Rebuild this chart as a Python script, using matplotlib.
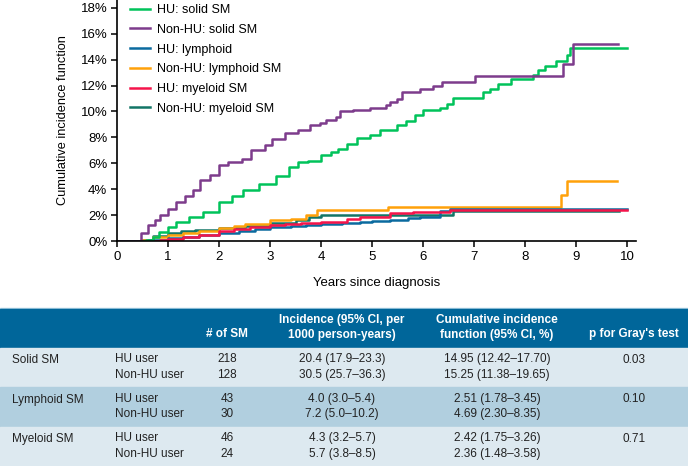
import numpy as np
import matplotlib.pyplot as plt
from matplotlib.patches import Rectangle

# curves (years, %)
hu_solid_t = [0, 0.57, 0.7, 0.83, 1.0, 1.16, 1.42, 1.68, 2.0, 2.26, 2.46, 2.78, 3.11, 3.37, 3.55, 3.75,
              4.0, 4.2, 4.34, 4.5, 4.7, 4.96, 5.15, 5.48, 5.67, 5.84, 6.0, 6.33, 6.46, 6.59, 7.18, 7.31,
              7.47, 7.73, 8.16, 8.25, 8.38, 8.61, 8.81, 8.87, 10.0]
hu_solid_v = [0, 0.1, 0.3, 0.7, 1.1, 1.45, 1.85, 2.25, 3.0, 3.5, 3.9, 4.4, 5.05, 5.7, 6.1, 6.2,
              6.6, 6.9, 7.12, 7.5, 7.97, 8.15, 8.6, 8.92, 9.23, 9.7, 10.13, 10.28, 10.6, 11.06, 11.49, 11.75,
              12.08, 12.52, 12.85, 13.16, 13.47, 13.88, 14.37, 14.86, 14.86]

non_solid_t = [0, 0.48, 0.6, 0.75, 0.85, 1.0, 1.16, 1.33, 1.49, 1.62, 1.82, 2.0, 2.18, 2.44, 2.63, 2.9,
               3.03, 3.29, 3.55, 3.78, 3.97, 4.1, 4.3, 4.37, 4.63, 4.96, 5.28, 5.35, 5.48, 5.58, 5.94,
               6.2, 6.36, 7.01, 8.73, 8.94, 9.81]
non_solid_v = [0, 0.6, 1.2, 1.6, 2.0, 2.5, 3.0, 3.5, 3.9, 4.67, 5.1, 5.85, 6.1, 6.35, 7.0, 7.4,
               7.9, 8.3, 8.6, 8.92, 9.1, 9.36, 9.56, 10.0, 10.13, 10.28, 10.46, 10.72, 10.98, 11.49, 11.75,
               12.0, 12.3, 12.7, 13.68, 15.17, 15.17]

hu_lymph_t = [0, 0.6, 0.8, 1.0, 1.3, 1.6, 2.0, 2.4, 2.7, 3.0, 3.4, 3.7, 4.0, 4.4, 4.76, 5.0, 5.35,
              5.7, 5.94, 6.33, 6.52, 10.0]
hu_lymph_v = [0, 0.05, 0.1, 0.2, 0.3, 0.45, 0.6, 0.75, 0.9, 1.05, 1.15, 1.2, 1.3, 1.38, 1.44, 1.52, 1.65,
              1.75, 1.85, 2.29, 2.47, 2.47]

non_lymph_t = [0, 0.48, 0.7, 1.0, 1.3, 1.6, 2.0, 2.3, 2.5, 3.0, 3.4, 3.7, 3.92, 5.31, 8.70, 8.81, 9.8]
non_lymph_v = [0, 0.1, 0.3, 0.5, 0.65, 0.8, 0.97, 1.15, 1.35, 1.6, 1.73, 2.0, 2.37, 2.6, 3.58, 4.63, 4.63]

hu_myel_t = [0, 0.84, 1.0, 1.3, 1.6, 2.0, 2.3, 2.6, 3.0, 3.3, 3.6, 4.0, 4.5, 4.76, 5.35, 5.8, 6.52, 10.0]
hu_myel_v = [0, 0.05, 0.15, 0.3, 0.5, 0.78, 0.9, 1.05, 1.2, 1.3, 1.38, 1.5, 1.7, 1.82, 2.16, 2.24, 2.4, 2.42]

non_myel_t = [0, 0.5, 0.7, 1.0, 1.25, 1.52, 2.0, 2.5, 3.0, 3.5, 3.76, 4.0, 6.59, 9.84]
non_myel_v = [0, 0.1, 0.35, 0.65, 0.75, 0.85, 0.98, 1.15, 1.37, 1.6, 1.84, 1.98, 2.29, 2.29]

labels = ['HU: solid SM', 'Non-HU: solid SM', 'HU: lymphoid', 'Non-HU: lymphoid SM',
          'HU: myeloid SM', 'Non-HU: myeloid SM']
colors = ['#00c35a', '#7d3c8c', '#0b6a9f', '#ffa10a', '#f5144a', '#137566']

# table
tbl_header = ['', '', '# of SM', 'Incidence (95% CI, per\n1000 person-years)',
              'Cumulative incidence\nfunction (95% CI, %)', "p for Gray's test"]
sm_types = ['Solid SM', 'Lymphoid SM', 'Myeloid SM']
users = ['HU user\nNon-HU user'] * 3
n_sm = ['218\n128', '43\n30', '46\n24']
incidence = ['20.4 (17.9\u201323.3)\n30.5 (25.7\u201336.3)',
             '4.0 (3.0\u20135.4)\n7.2 (5.0\u201310.2)',
             '4.3 (3.2\u20135.7)\n5.7 (3.8\u20138.5)']
cif = ['14.95 (12.42\u201317.70)\n15.25 (11.38\u201319.65)',
       '2.51 (1.78\u20133.45)\n4.69 (2.30\u20138.35)',
       '2.42 (1.75\u20133.26)\n2.36 (1.48\u20133.58)']
p_gray = ['0.03', '0.10', '0.71']

W, H = 688, 466
fig = plt.figure(figsize=(W / 100, H / 100), dpi=100)
plt.rcParams['font.family'] = ['Liberation Sans', 'DejaVu Sans']
narrow = ['Liberation Sans Narrow', 'Liberation Sans', 'DejaVu Sans']


def fx(px):
    return px / W


def fy(py):
    return 1 - py / H


ax = fig.add_axes([fx(117), fy(241), fx(636 - 117), 241 / H])
series = [(hu_solid_t, hu_solid_v), (non_solid_t, non_solid_v), (hu_lymph_t, hu_lymph_v),
          (non_lymph_t, non_lymph_v), (hu_myel_t, hu_myel_v), (non_myel_t, non_myel_v)]
order = [5, 3, 2, 4, 0, 1]
handles = [None] * 6
for i in order:
    t, v = series[i]
    h, = ax.step(t, v, where='post', color=colors[i], lw=1.8, label=labels[i])
    handles[i] = h

ax.set_xlim(0, 10.17)
ax.set_ylim(0, 18.6)
ax.set_xticks(range(0, 11))
ax.set_yticks(range(0, 19, 2))
ax.set_yticklabels(['%d%%' % y for y in range(0, 19, 2)])
for s in ['top', 'right']:
    ax.spines[s].set_visible(False)
for s in ['left', 'bottom']:
    ax.spines[s].set_linewidth(1.2)
ax.tick_params(direction='out', length=4, width=1.1, labelsize=9.5, pad=3)
ax.set_xlabel('Years since diagnosis', family=narrow, fontsize=9.5, labelpad=10)
ax.set_ylabel('Cumulative incidence function', family=narrow, fontsize=9.2, labelpad=8)
ax.legend(handles=handles, loc='upper left', bbox_to_anchor=(0.0, 1.035), frameon=False,
          fontsize=9, handlelength=1.6, handletextpad=0.6, labelspacing=0.62, borderaxespad=0.6)

# table background
fig.patches.append(Rectangle((0, fy(309)), 1, 1.5 / H, transform=fig.transFigure,
                             color='#a9cfe3', zorder=0))
fig.patches.append(Rectangle((0, fy(347.7)), 1, 38.7 / H, transform=fig.transFigure,
                             color='#00669a', zorder=1))
row_edges = [347.7, 387.3, 426.7, 466]
row_cols = ['#dde9f0', '#b1cfdf', '#dde9f0']
for k in range(3):
    fig.patches.append(Rectangle((0, fy(row_edges[k + 1])), 1, (row_edges[k + 1] - row_edges[k]) / H,
                                 transform=fig.transFigure, color=row_cols[k], zorder=1))

hdr_x = [12, 115, 227, 342, 497, 634]
fig.text(fx(hdr_x[2]), fy(334), tbl_header[2], ha='center', va='center', color='white',
         fontsize=8.5, fontweight='bold')
for j in [3, 4]:
    fig.text(fx(hdr_x[j]), fy(327.7), tbl_header[j], ha='center', va='center', color='white',
             fontsize=8.5, fontweight='bold', linespacing=1.35)
fig.text(fx(hdr_x[5]), fy(334), tbl_header[5], ha='center', va='center', color='white',
         fontsize=8.5, fontweight='bold')

row_y = [360, 399.5, 439]
txt = dict(fontsize=8.5, color='#222222', linespacing=1.4)
for k in range(3):
    yc = fy(row_y[k] + 7)
    fig.text(fx(hdr_x[0]), fy(row_y[k]), sm_types[k], ha='left', va='center', **txt)
    fig.text(fx(hdr_x[1]), yc, users[k], ha='left', va='center', **txt)
    fig.text(fx(hdr_x[2]), yc, n_sm[k], ha='center', va='center', multialignment='center', **txt)
    fig.text(fx(hdr_x[3]), yc, incidence[k], ha='center', va='center', multialignment='center', **txt)
    fig.text(fx(hdr_x[4]), yc, cif[k], ha='center', va='center', multialignment='center', **txt)
    fig.text(fx(hdr_x[5]), fy(row_y[k]), p_gray[k], ha='center', va='center', **txt)

fig.savefig('out.png', dpi=100)
